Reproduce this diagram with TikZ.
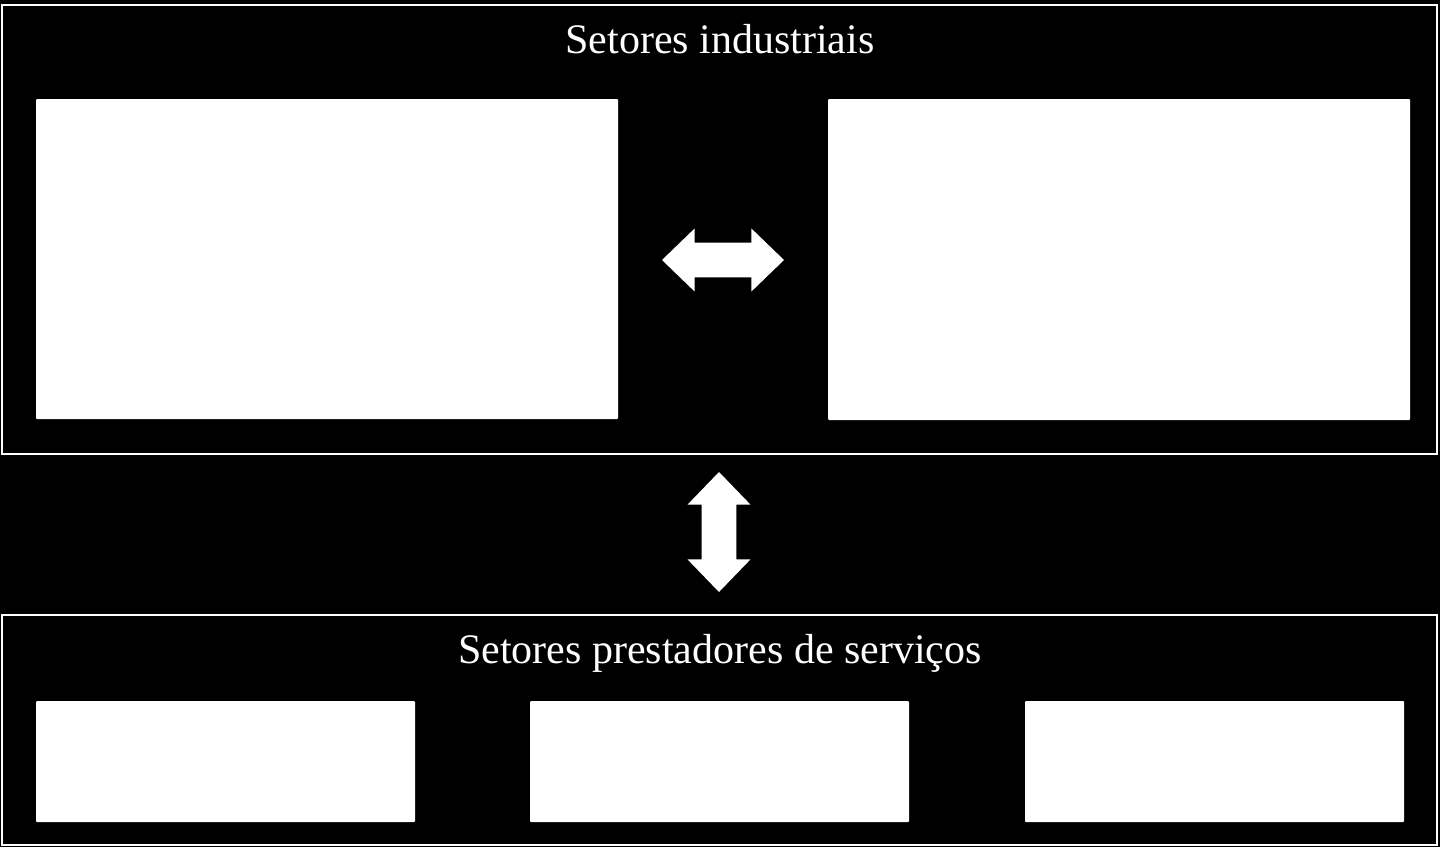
\documentclass[tikz,border=0pt]{standalone}
\usepackage{fontspec}
\setmainfont{Liberation Serif}
\usetikzlibrary{shapes.arrows}
\tikzset{frm/.style={draw=white,line width=1.25pt,inner sep=0pt},box/.style={fill=white,rounded corners=.5pt,inner sep=0pt},ttl/.style={text=white,font=\fontsize{21}{25}\selectfont,anchor=base,inner sep=0pt}}
\tikzset{dbl/.style={double arrow,fill=white,inner xsep=0pt,inner ysep=8.5pt,double arrow head extend=7pt,double arrow tip angle=88,minimum width=31pt}}

\begin{document}
\begin{tikzpicture}[x=.5pt,y=-.5pt]
\fill[black] (0,0) rectangle (1440,847);
\node[frm,minimum width=717.5pt,minimum height=224.5pt] (ind) at (719.5,229.5) {};
\node[frm,minimum width=717.5pt,minimum height=115pt] (srv) at (719.5,730) {};
\node[ttl] (t1) at (720,53) {Setores industriais};
\node[ttl] (t2) at (720,663) {Setores prestadores de serviços};
\node[box,minimum width=291pt,minimum height=160pt] (i1) at (327,259) {};
\node[box,minimum width=291pt,minimum height=160.5pt] (i2) at (1119,259.5) {};
\node[box,minimum width=189.5pt,minimum height=60.5pt] (s1) at (225.5,761.5) {};
\node[box,minimum width=189.5pt,minimum height=60.5pt] (s2) at (719.5,761.5) {};
\node[box,minimum width=189.5pt,minimum height=60.5pt] (s3) at (1214.5,761.5) {};
\node[dbl,minimum height=61pt] (h) at (723,260) {};
\node[dbl,minimum height=60pt,rotate=90] (v) at (719,532) {};
\end{tikzpicture}
\end{document}
